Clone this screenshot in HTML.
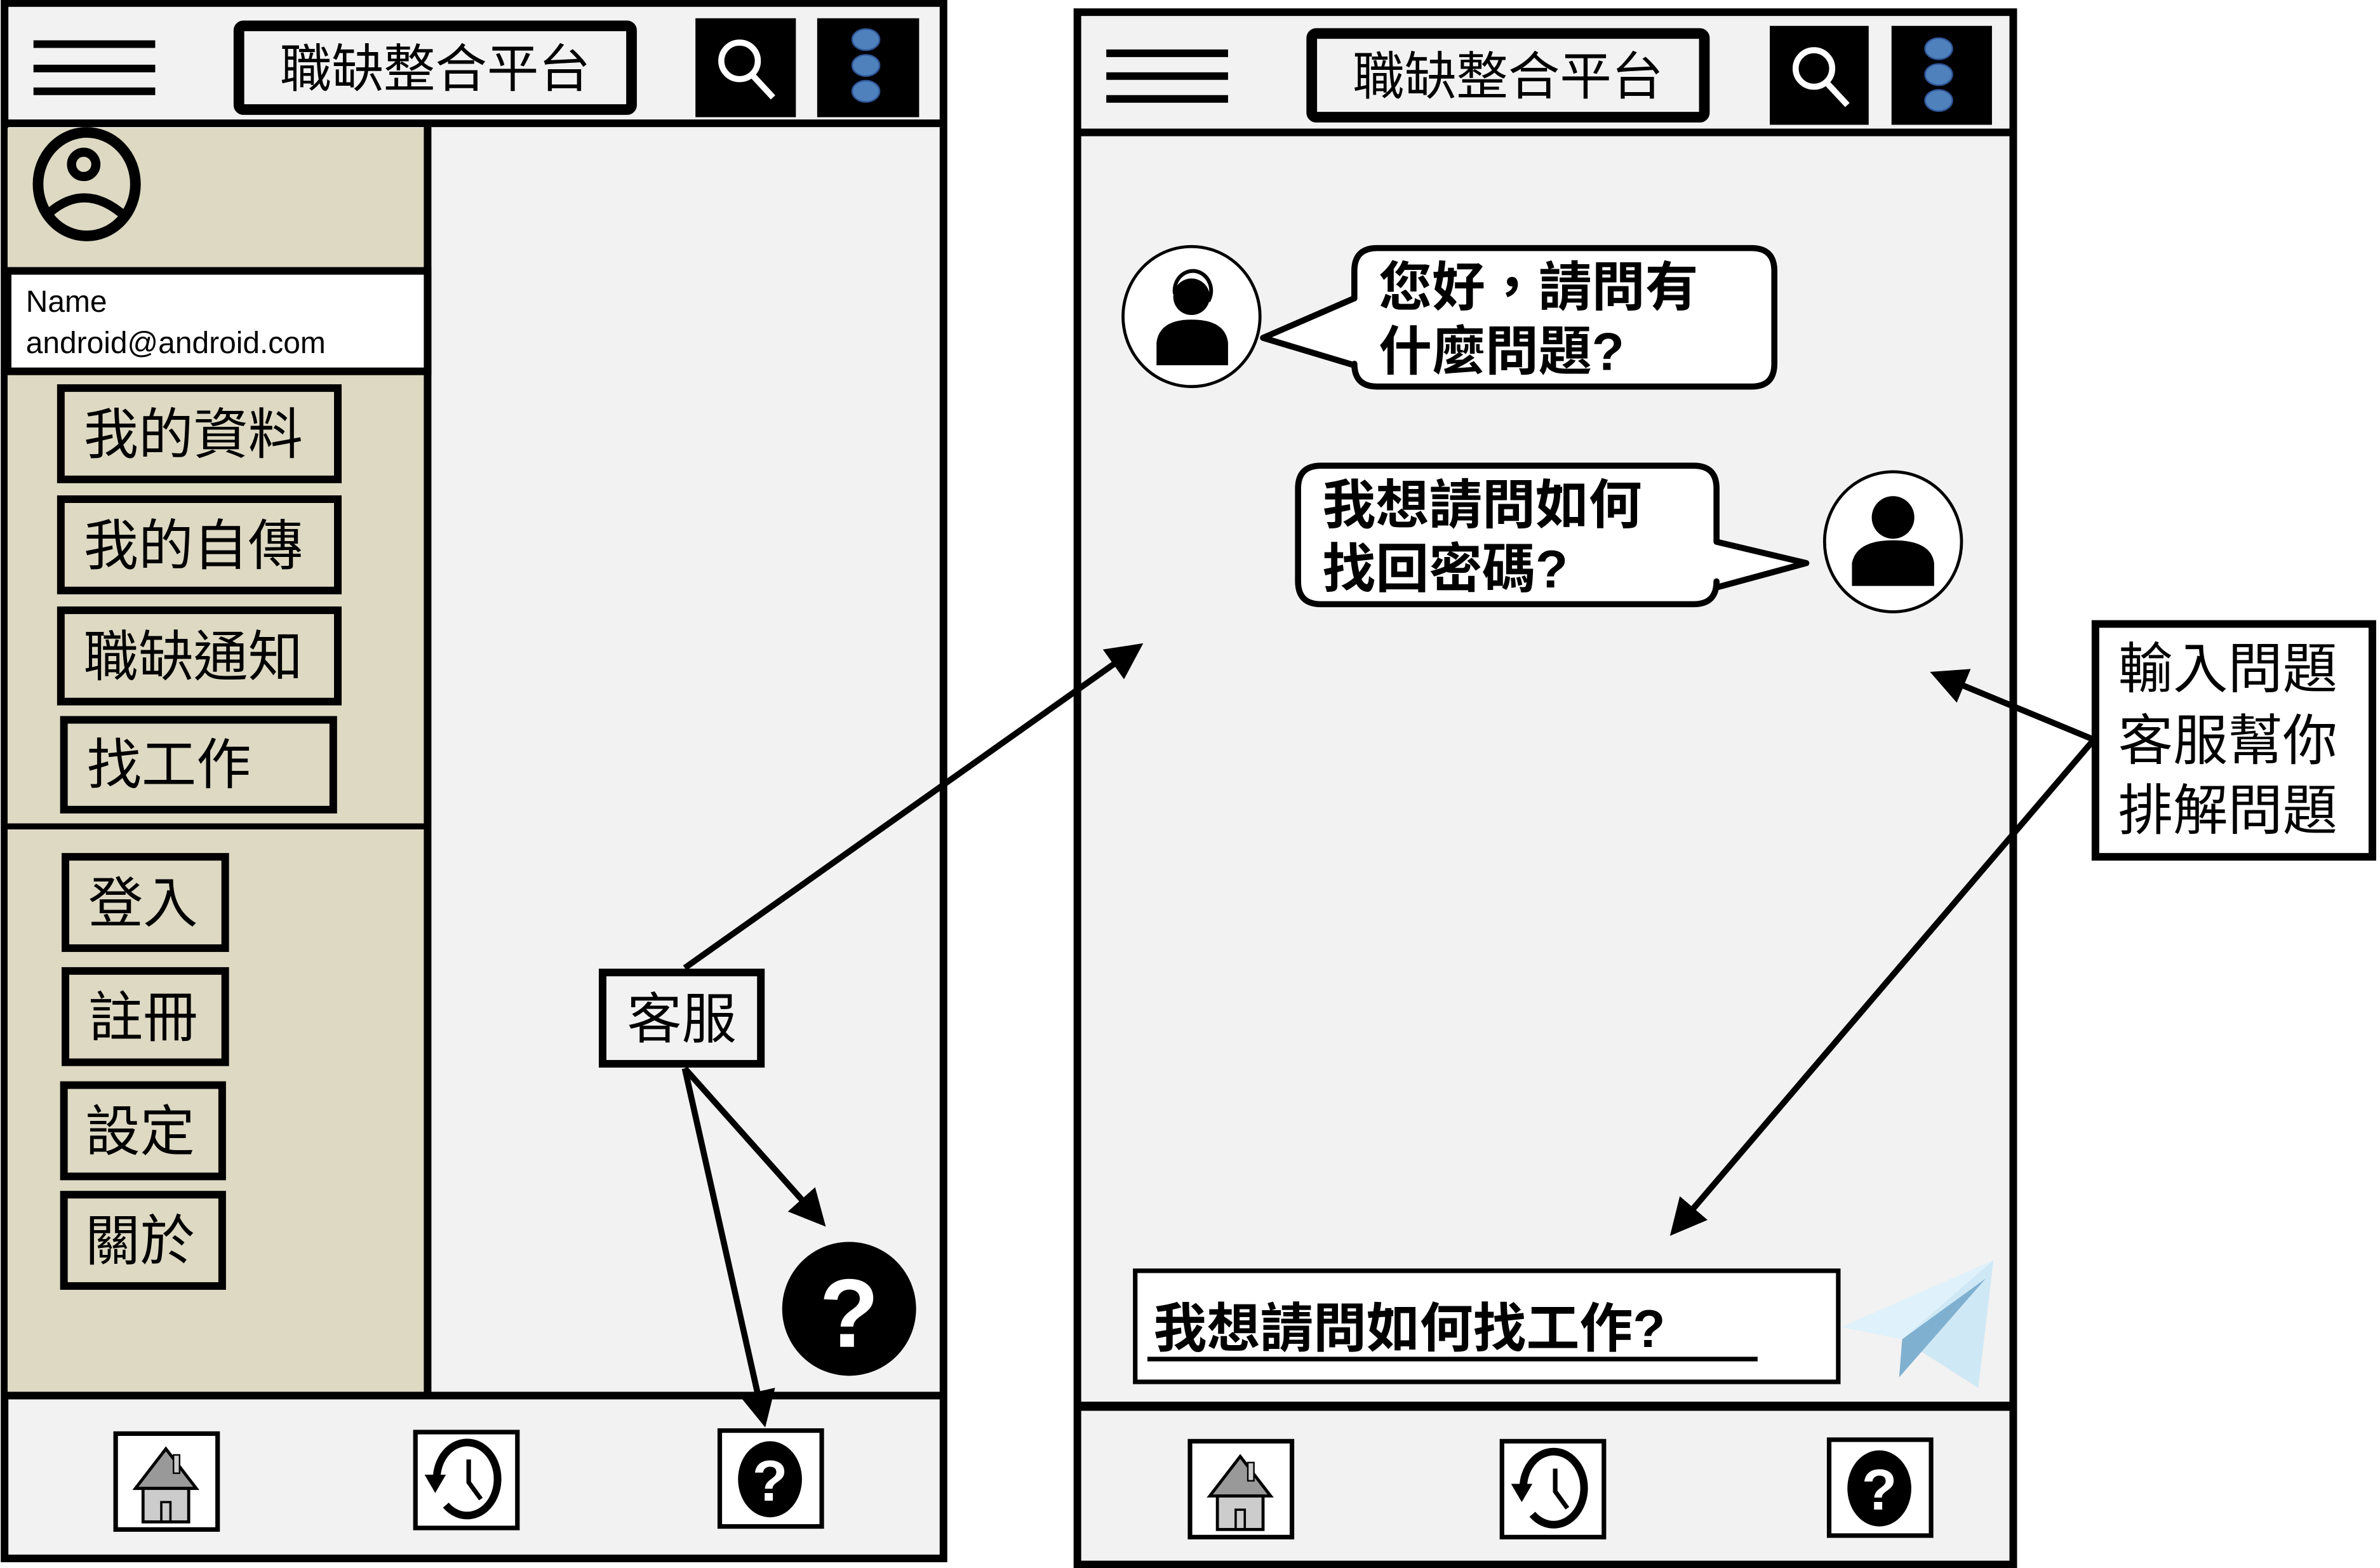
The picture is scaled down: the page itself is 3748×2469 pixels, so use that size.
<!DOCTYPE html>
<html><head><meta charset="utf-8"><style>html,body{margin:0;padding:0;background:#fff}svg{display:block}text{font-family:"Liberation Sans","Noto Sans CJK TC",sans-serif}</style></head><body>
<svg width="3748" height="2469" viewBox="0 0 1564 1030.3" preserveAspectRatio="none" xmlns="http://www.w3.org/2000/svg">
<defs><marker id="ah" markerWidth="6" markerHeight="6" refX="5" refY="3" orient="auto" markerUnits="strokeWidth"><path d="M0,0 L6,3 L0,6 z" fill="#000"/></marker>
<g id="home"><rect x="0" y="0" width="67" height="63" fill="#fff" stroke="#000" stroke-width="3"/><polygon points="33,10 13,36 53,36" fill="#999" stroke="#000" stroke-width="2"/><rect x="18" y="36" width="30" height="22" fill="#ccc" stroke="#000" stroke-width="2"/><rect x="30" y="45" width="6" height="13" fill="none" stroke="#000" stroke-width="1.5"/><rect x="38" y="14" width="4" height="12" fill="#ccc" stroke="#000" stroke-width="1"/></g>
<g id="hist"><rect x="0" y="0" width="67" height="63" fill="#fff" stroke="#000" stroke-width="3"/><path d="M14,32 A20,24 0 1 1 20,48" fill="none" stroke="#000" stroke-width="5"/><polygon points="6,28 20,28 13,40" fill="#000"/><path d="M35,18 L35,33 L43,44" fill="none" stroke="#000" stroke-width="3"/></g>
<g id="help"><rect x="0" y="0" width="67" height="63" fill="#fff" stroke="#000" stroke-width="3"/><ellipse cx="33" cy="32" rx="21" ry="25" fill="#000"/><text x="33" y="46" font-size="38" font-weight="bold" fill="#fff" text-anchor="middle">?</text></g>
</defs>
<!-- LEFT PHONE -->
<rect x="3" y="2" width="617" height="1022" fill="#f2f2f2" stroke="#000" stroke-width="5"/>
<line x1="3" y1="81" x2="620" y2="81" stroke="#000" stroke-width="5"/>
<g stroke="#000" stroke-width="5"><line x1="22" y1="29" x2="102" y2="29"/><line x1="22" y1="45" x2="102" y2="45"/><line x1="22" y1="60" x2="102" y2="60"/></g>
<rect x="157" y="17" width="258" height="55" rx="3" fill="#f2f2f2" stroke="#000" stroke-width="7"/>
<text x="286" y="57" font-size="34" text-anchor="middle">職缺整合平台</text>
<rect x="457" y="12" width="66" height="65" fill="#000"/>
<circle cx="486" cy="40" r="12" fill="none" stroke="#fff" stroke-width="4"/><line x1="495" y1="50" x2="508" y2="64" stroke="#fff" stroke-width="4"/>
<rect x="537" y="12" width="67" height="65" fill="#000"/>
<g fill="#4f81bd" stroke="#2f5597" stroke-width="1"><ellipse cx="569" cy="26" rx="9" ry="7"/><ellipse cx="569" cy="43" rx="9" ry="7"/><ellipse cx="569" cy="60" rx="9" ry="7"/></g>
<rect x="5" y="84" width="275" height="832" fill="#ddd9c3"/>
<line x1="281" y1="83" x2="281" y2="917" stroke="#000" stroke-width="5"/>
<ellipse cx="57" cy="121" rx="32" ry="34" fill="none" stroke="#000" stroke-width="7"/>
<circle cx="55" cy="108" r="8" fill="none" stroke="#000" stroke-width="6"/>
<path d="M30,142 Q55,118 82,142" fill="none" stroke="#000" stroke-width="6"/>
<rect x="5" y="178" width="276" height="66" fill="#fff" stroke="#000" stroke-width="5"/>
<text x="17" y="205" font-size="20">Name</text>
<text x="17" y="232" font-size="20">android@android.com</text>
<g fill="#ddd9c3" stroke="#000" stroke-width="5">
<rect x="40" y="255" width="182" height="60"/><rect x="40" y="328" width="182" height="60"/><rect x="40" y="401" width="182" height="60"/><rect x="42" y="473" width="177" height="59"/>
<rect x="43" y="563" width="105" height="60"/><rect x="43" y="638" width="105" height="60"/><rect x="42" y="713" width="104" height="60"/><rect x="42" y="785" width="104" height="60"/></g>
<line x1="5" y1="543" x2="280" y2="543" stroke="#000" stroke-width="4"/>
<g font-size="36" fill="#000"><text x="55" y="298">我的資料</text><text x="55" y="371">我的自傳</text><text x="55" y="444">職缺通知</text><text x="57" y="515">找工作</text>
<text x="58" y="606">登入</text><text x="58" y="681">註冊</text><text x="56" y="756">設定</text><text x="56" y="828">關於</text></g>
<line x1="3" y1="917" x2="620" y2="917" stroke="#000" stroke-width="5"/>
<use href="#home" x="76" y="942"/><use href="#hist" x="273" y="941"/><use href="#help" x="473" y="940"/>
<circle cx="558" cy="860" r="44" fill="#000"/><text x="558" y="885" font-size="64" font-weight="bold" fill="#fff" text-anchor="middle">?</text>
<rect x="396" y="639" width="104" height="60" fill="#f2f2f2" stroke="#000" stroke-width="5"/>
<text x="448" y="682" font-size="36" text-anchor="middle">客服</text>
<!-- RIGHT PHONE -->
<rect x="708" y="8" width="615" height="1020" fill="#f2f2f2" stroke="#000" stroke-width="5"/>
<line x1="708" y1="87" x2="1323" y2="87" stroke="#000" stroke-width="5"/>
<g stroke="#000" stroke-width="5"><line x1="727" y1="35" x2="807" y2="35"/><line x1="727" y1="50" x2="807" y2="50"/><line x1="727" y1="65" x2="807" y2="65"/></g>
<rect x="862" y="22" width="258" height="55" rx="3" fill="#f2f2f2" stroke="#000" stroke-width="7"/>
<text x="991" y="62" font-size="34" text-anchor="middle">職缺整合平台</text>
<rect x="1163" y="17" width="65" height="65" fill="#000"/>
<circle cx="1192" cy="45" r="12" fill="none" stroke="#fff" stroke-width="4"/><line x1="1201" y1="55" x2="1214" y2="69" stroke="#fff" stroke-width="4"/>
<rect x="1243" y="17" width="66" height="65" fill="#000"/>
<g fill="#4f81bd" stroke="#2f5597" stroke-width="1"><ellipse cx="1274" cy="32" rx="9" ry="7"/><ellipse cx="1274" cy="49" rx="9" ry="7"/><ellipse cx="1274" cy="66" rx="9" ry="7"/></g>
<!-- agent -->
<ellipse cx="783" cy="208" rx="45" ry="46" fill="#fff" stroke="#000" stroke-width="2"/>
<circle cx="783" cy="195" r="12" fill="#000"/><path d="M772,193 A12,13 0 1 1 794,198" fill="none" stroke="#000" stroke-width="2.5"/>
<path d="M760,240 L760,225 Q762,210 783,210 Q805,210 807,225 L807,240 z" fill="#000"/>
<path d="M890,178 Q890,163 905,163 L1151,163 Q1166,163 1166,178 L1166,239 Q1166,254 1151,254 L905,254 Q890,254 890,239 L890,240 L830,222 L890,196 z" fill="#fff" stroke="#000" stroke-width="4" stroke-linejoin="round"/>
<g font-size="35" font-weight="bold" fill="#000"><text x="906" y="201">您好，請問有</text><text x="906" y="243">什麼問題?</text></g>
<!-- user -->
<ellipse cx="1244" cy="356" rx="45" ry="46" fill="#fff" stroke="#000" stroke-width="2"/>
<circle cx="1244" cy="340" r="14" fill="#000"/>
<path d="M1217,385 L1217,370 Q1220,355 1244,355 Q1269,355 1271,370 L1271,385 z" fill="#000"/>
<path d="M868,306 L1113,306 Q1128,306 1128,321 L1128,356 L1187,370 L1128,386 L1128,382 Q1128,397 1113,397 L868,397 Q853,397 853,382 L853,321 Q853,306 868,306 z" fill="#fff" stroke="#000" stroke-width="4" stroke-linejoin="round"/>
<g font-size="35" font-weight="bold" fill="#000"><text x="869" y="344">我想請問如何</text><text x="869" y="386">找回密碼?</text></g>
<!-- input -->
<rect x="746" y="835" width="462" height="73" fill="#fff" stroke="#000" stroke-width="3"/>
<text x="758" y="885" font-size="35" font-weight="bold">我想請問如何找工作?</text>
<line x1="754" y1="893" x2="1155" y2="893" stroke="#000" stroke-width="3"/>
<polygon points="1310,828 1210,872 1250,880" fill="#dff1fb"/>
<polygon points="1310,828 1250,880 1300,912" fill="#cfe8f5"/>
<polygon points="1305,840 1250,880 1248,905" fill="#7fb0d0"/>
<line x1="708" y1="924" x2="1323" y2="924" stroke="#000" stroke-width="6"/>
<use href="#home" x="782" y="947"/><use href="#hist" x="987" y="947"/><use href="#help" x="1202" y="946"/>
<!-- label -->
<rect x="1377" y="410" width="182" height="153" fill="#fff" stroke="#000" stroke-width="5"/>
<g font-size="36" fill="#000"><text x="1392" y="452">輸入問題</text><text x="1392" y="499">客服幫你</text><text x="1392" y="545">排解問題</text></g>
<!-- arrows -->
<g stroke="#000" stroke-width="4" fill="none" marker-end="url(#ah)">
<line x1="450" y1="636" x2="748" y2="425"/>
<line x1="450" y1="702" x2="540" y2="803"/>
<line x1="450" y1="702" x2="502" y2="934"/>
<line x1="1376" y1="486" x2="1272" y2="443"/>
<line x1="1376" y1="486" x2="1100" y2="809"/>
</g>
</svg>
</body></html>
